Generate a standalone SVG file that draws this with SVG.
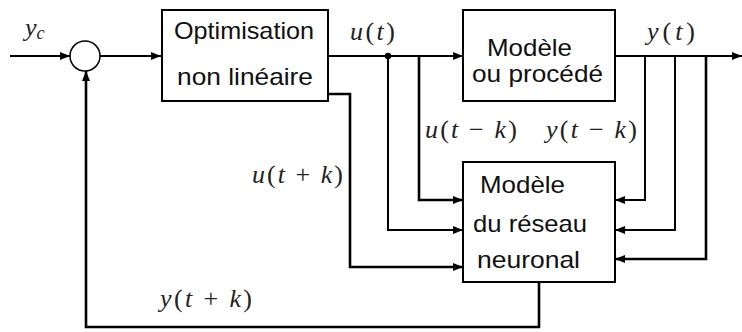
<svg xmlns="http://www.w3.org/2000/svg" width="742" height="332" viewBox="0 0 742 332">
  <defs>
    <marker id="arrow" viewBox="0 0 10 8" refX="10" refY="4" markerWidth="10" markerHeight="8" markerUnits="userSpaceOnUse" orient="auto">
      <path d="M0,0 L10,4 L0,8 Z" fill="#000"/>
    </marker>
    <style>
      .box { fill: #fff; stroke: #000; stroke-width: 2; }
      .wire { fill: none; stroke: #000; stroke-width: 2; }
      .thick { stroke-width: 2.6; }
      .lbl { font-family: "Liberation Sans", Arial, sans-serif; font-size: 24px; fill: #111; }
      .math { font-family: "Liberation Serif", "Times New Roman", serif; font-size: 26px; fill: #222; }
      .v { font-style: italic; }
    </style>
  </defs>

  <!-- connectors -->
  <g id="connectors">
    <path class="wire" d="M10,56 H70" marker-end="url(#arrow)"/>
    <path class="wire" d="M100,56 H161" marker-end="url(#arrow)"/>
    <path class="wire" d="M328,56 H463" marker-end="url(#arrow)"/>
    <circle cx="388" cy="56" r="3.2" fill="#000"/>
    <path class="wire" d="M388,56 V230 H463" marker-end="url(#arrow)"/>
    <path class="wire thick" d="M419,56 V200 H463" marker-end="url(#arrow)"/>
    <path class="wire thick" d="M328,94 H350 V267 H463" marker-end="url(#arrow)"/>
    <path class="wire" d="M615,56 H742" marker-end="url(#arrow)"/>
    <path class="wire" d="M645,56 V200 H615" marker-end="url(#arrow)"/>
    <path class="wire" d="M675,56 V230 H615" marker-end="url(#arrow)"/>
    <path class="wire thick" d="M706,56 V259 H615" marker-end="url(#arrow)"/>
    <path class="wire thick" d="M539,282 V327 H86 V71" marker-end="url(#arrow)"/>
  </g>

  <!-- summing junction -->
  <g id="sum">
    <circle cx="85" cy="56" r="15" fill="#fff" stroke="#000" stroke-width="1.5"/>
  </g>

  <g id="optimisation">
    <rect class="box" x="162" y="10" width="166" height="91"/>
    <text class="lbl" x="174" y="39" textLength="140" lengthAdjust="spacingAndGlyphs">Optimisation</text>
    <text class="lbl" x="177" y="85" textLength="136" lengthAdjust="spacingAndGlyphs">non linéaire</text>
  </g>

  <g id="procede">
    <rect class="box" x="463" y="10" width="152" height="91"/>
    <text class="lbl" x="487" y="56" font-size="22.5" textLength="85" lengthAdjust="spacingAndGlyphs">Modèle</text>
    <text class="lbl" x="472" y="81.5" font-size="22.5" textLength="131" lengthAdjust="spacingAndGlyphs">ou procédé</text>
  </g>

  <g id="reseau">
    <rect class="box" x="463" y="162" width="152" height="120"/>
    <text class="lbl" x="480" y="193" textLength="85" lengthAdjust="spacingAndGlyphs">Modèle</text>
    <text class="lbl" x="473" y="232" textLength="114" lengthAdjust="spacingAndGlyphs">du réseau</text>
    <text class="lbl" x="477" y="268" textLength="103" lengthAdjust="spacingAndGlyphs">neuronal</text>
  </g>

  <!-- signal labels -->
  <g id="labels">
    <text class="math" x="25" y="36"><tspan class="v">y</tspan><tspan class="v" font-size="18" dy="3">c</tspan></text>
    <text class="math" x="350" y="40" textLength="45" lengthAdjust="spacing"><tspan class="v">u</tspan>(<tspan class="v">t</tspan>)</text>
    <text class="math" x="647" y="40" textLength="48" lengthAdjust="spacing"><tspan class="v">y</tspan>(<tspan class="v">t</tspan>)</text>
    <text class="math" x="425" y="138" textLength="92" lengthAdjust="spacing"><tspan class="v">u</tspan>(<tspan class="v">t</tspan> − <tspan class="v">k</tspan>)</text>
    <text class="math" x="546" y="138" textLength="91" lengthAdjust="spacing"><tspan class="v">y</tspan>(<tspan class="v">t</tspan> − <tspan class="v">k</tspan>)</text>
    <text class="math" x="252" y="183" textLength="91" lengthAdjust="spacing"><tspan class="v">u</tspan>(<tspan class="v">t</tspan> + <tspan class="v">k</tspan>)</text>
    <text class="math" x="160" y="307" textLength="92" lengthAdjust="spacing"><tspan class="v">y</tspan>(<tspan class="v">t</tspan> + <tspan class="v">k</tspan>)</text>
  </g>
</svg>
